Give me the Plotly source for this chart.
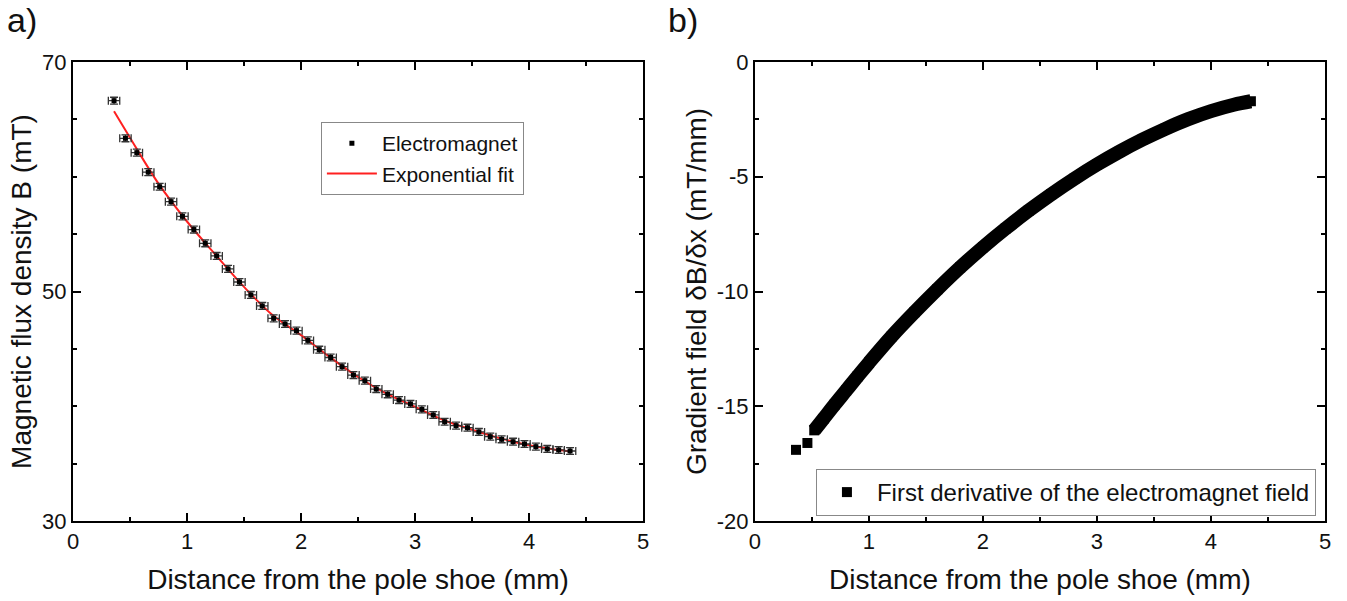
import plotly.graph_objects as go

# Panel a) measured field of the electromagnet
dist_mm = [0.36, 0.46, 0.56, 0.66, 0.76, 0.86, 0.96, 1.06, 1.16, 1.26,
           1.36, 1.46, 1.56, 1.66, 1.76, 1.86, 1.96, 2.06, 2.16, 2.26,
           2.36, 2.46, 2.56, 2.66, 2.76, 2.86, 2.96, 3.06, 3.16, 3.26,
           3.36, 3.46, 3.56, 3.66, 3.76, 3.86, 3.96, 4.06, 4.16, 4.26, 4.36]
flux_mT = [66.63, 63.35, 62.10, 60.40, 59.13, 57.83, 56.55, 55.40, 54.20, 53.10,
           51.97, 50.83, 49.70, 48.74, 47.66, 47.17, 46.59, 45.74, 44.93, 44.25,
           43.45, 42.72, 42.23, 41.50, 41.04, 40.54, 40.20, 39.73, 39.24, 38.65,
           38.31, 38.13, 37.76, 37.35, 37.12, 36.91, 36.71, 36.48, 36.28, 36.19, 36.10]
dist_err_mm = [0.05] * len(dist_mm)
flux_err_mT = [0.3] * len(dist_mm)

# Exponential fit curve
fit_x = [0.36, 0.50, 0.75, 1.00, 1.25, 1.50, 1.75, 2.00, 2.25, 2.50,
         2.75, 3.00, 3.25, 3.50, 3.75, 4.00, 4.25, 4.36]
fit_y = [65.70, 63.40, 59.40, 56.10, 53.20, 50.40, 47.95, 46.20, 44.30, 42.55,
         41.10, 39.95, 38.80, 37.95, 37.20, 36.60, 36.20, 36.05]

# Panel b) first derivative of the field
grad_x = [0.36, 0.46, 0.52, 0.60, 0.70, 0.80, 0.90, 1.00, 1.20, 1.40,
          1.60, 1.80, 2.00, 2.20, 2.40, 2.60, 2.80, 3.00, 3.20, 3.40,
          3.60, 3.80, 4.00, 4.20, 4.35]
grad_y = [-16.90, -16.60, -16.05, -15.55, -14.92, -14.31, -13.70, -13.10, -11.95, -10.90,
          -9.90, -8.95, -8.07, -7.25, -6.48, -5.76, -5.09, -4.47, -3.90, -3.38,
          -2.91, -2.49, -2.14, -1.86, -1.71]

# tick labels
x_ticks = [0, 1, 2, 3, 4, 5]
b_ticks = [30, 50, 70]
g_ticks = [-20, -15, -10, -5, 0]
g_ticktext = ["-20", "-15", "-10", "-5", "0"]

FONT = "Liberation Sans, Arial, sans-serif"
INK = "#111111"

fig = go.Figure()

fig.add_trace(go.Scatter(
    x=fit_x, y=fit_y, mode="lines", name="Exponential fit",
    line=dict(color="#ff2020", width=2, shape="spline"),
    xaxis="x", yaxis="y", legend="legend"))

fig.add_trace(go.Scatter(
    x=dist_mm, y=flux_mT, mode="markers", name="Electromagnet",
    marker=dict(symbol="square", size=5, color="black"),
    error_x=dict(type="data", array=dist_err_mm, color="#333333", thickness=1.3, width=4),
    error_y=dict(type="data", array=flux_err_mT, color="#333333", thickness=1.3, width=4),
    xaxis="x", yaxis="y", legend="legend"))

# thick band of the dense derivative series
fig.add_trace(go.Scatter(
    x=grad_x[2:], y=grad_y[2:], mode="lines", showlegend=False,
    line=dict(color="black", width=14, shape="spline"),
    xaxis="x2", yaxis="y2"))

fig.add_trace(go.Scatter(
    x=grad_x, y=grad_y, mode="markers", name="First derivative of the electromagnet field",
    marker=dict(symbol="square", size=10, color="black"),
    xaxis="x2", yaxis="y2", legend="legend2"))

axis_common = dict(
    showline=True, linecolor="black", linewidth=2, mirror="allticks",
    ticks="inside", ticklen=8, tickwidth=2, tickcolor="black",
    showgrid=False, zeroline=False,
    tickfont=dict(family=FONT, size=22, color=INK),
)
xtitle = dict(text="Distance from the pole shoe (mm)",
              font=dict(family=FONT, size=28, color=INK), standoff=16)


def minor(step):
    return dict(ticks="inside", ticklen=4, tickwidth=2, tickcolor="black", dtick=step)


fig.update_layout(
    width=1347, height=601,
    margin=dict(l=73, r=22, t=62, b=80),
    paper_bgcolor="white", plot_bgcolor="white",
    font=dict(family=FONT, color=INK),
    xaxis=dict(domain=[0, 0.4553], range=[0, 5], tickvals=x_ticks, minor=minor(0.5),
               title=xtitle, anchor="y", **axis_common),
    yaxis=dict(domain=[0, 1], range=[30, 70], tickvals=b_ticks, minor=minor(5),
               title=dict(text="Magnetic flux density B (mT)",
                          font=dict(family=FONT, size=28, color=INK), standoff=2),
               anchor="x", **axis_common),
    xaxis2=dict(domain=[0.5447, 1], range=[0, 5], tickvals=x_ticks, minor=minor(0.5),
                title=xtitle, anchor="y2", **axis_common),
    yaxis2=dict(domain=[0, 1], range=[-20, 0], tickvals=g_ticks, ticktext=g_ticktext,
                minor=minor(2.5),
                title=dict(text="Gradient field δB/δx (mT/mm)",
                           font=dict(family=FONT, size=28, color=INK), standoff=2),
                anchor="x2", **axis_common),
    legend=dict(x=0.198, y=0.869, xanchor="left", yanchor="top",
                bgcolor="white", bordercolor="#888888", borderwidth=1,
                font=dict(family=FONT, size=21, color=INK),
                traceorder="reversed", itemwidth=50, tracegroupgap=0),
    legend2=dict(x=0.5934, y=0.1133, xanchor="left", yanchor="top",
                 bgcolor="white", bordercolor="#888888", borderwidth=1,
                 font=dict(family=FONT, size=24, color=INK), itemwidth=50),
)

# panel letters, positioned from pixel offsets within the figure
for label, px in (("a)", 5), ("b)", 666)):
    fig.add_annotation(text=label, x=(px - 73) / 1252, y=(601 - 80 + 1) / 459,
                       xref="paper", yref="paper", xanchor="left", yanchor="top",
                       showarrow=False, font=dict(family=FONT, size=34, color=INK))

fig.write_html("out.html")
